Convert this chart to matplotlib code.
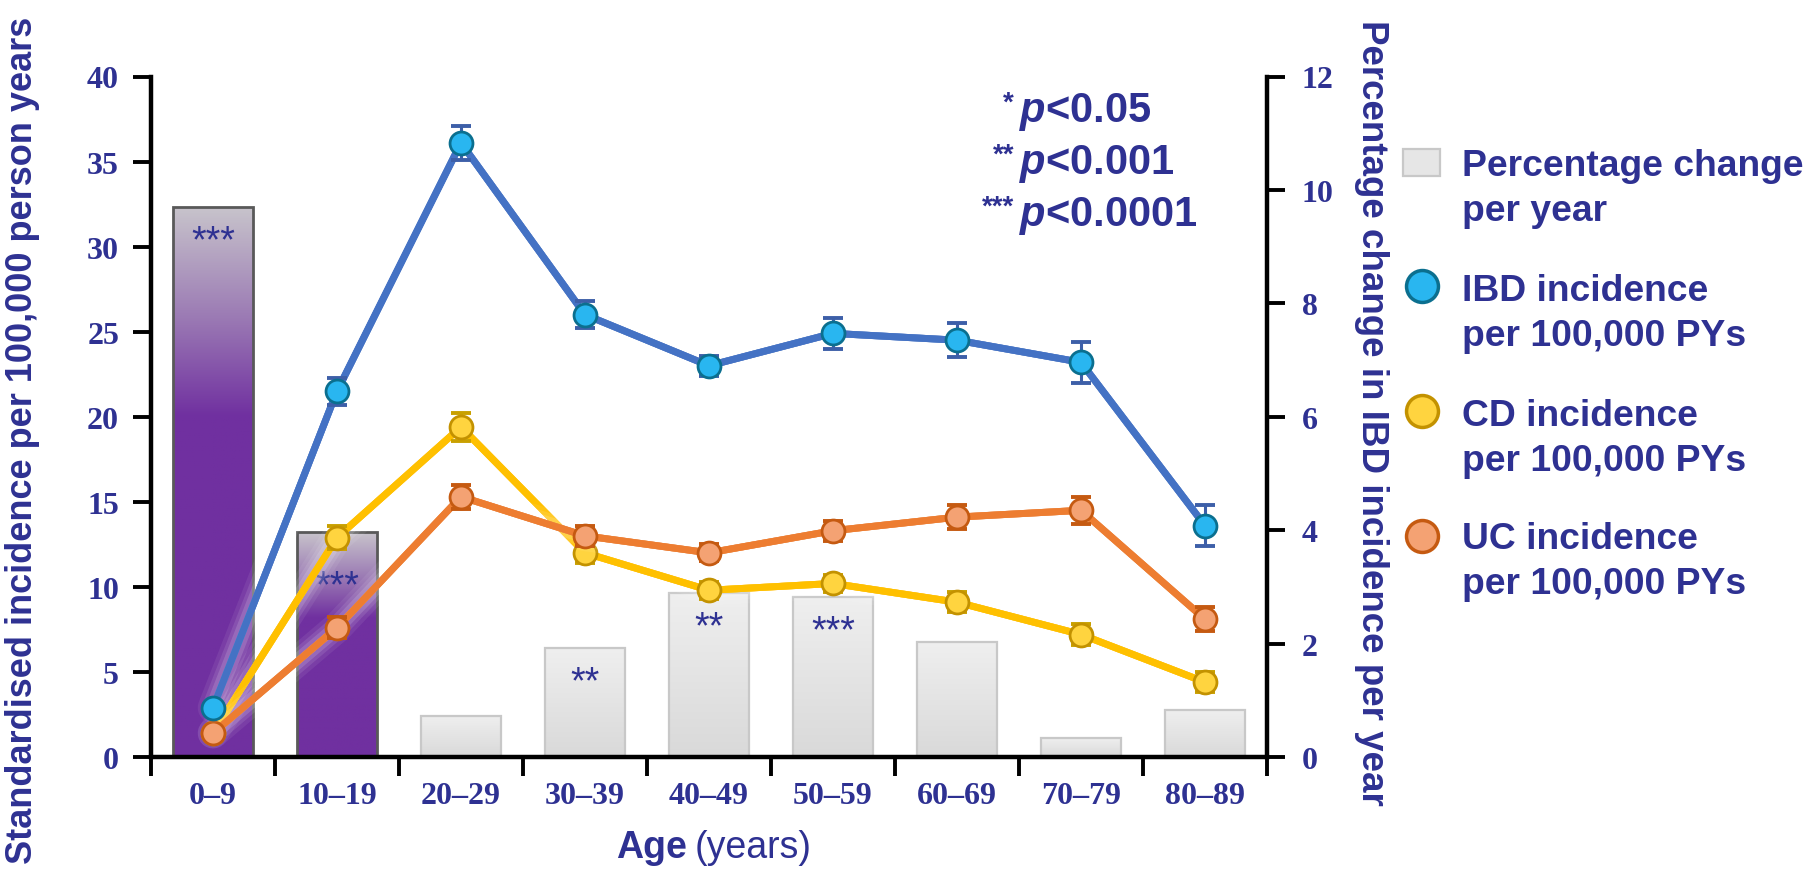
import numpy as np
import matplotlib
matplotlib.use('Agg')
import matplotlib.pyplot as plt
import matplotlib.patheffects as pe
from matplotlib.colors import LinearSegmentedColormap
from matplotlib.patches import Rectangle
from matplotlib.lines import Line2D

# Age bands and per-band values
age_groups = ['0–9', '10–19', '20–29', '30–39', '40–49', '50–59', '60–69', '70–79', '80–89']
pct_change = [9.69, 3.96, 0.73, 1.92, 2.90, 2.82, 2.02, 0.33, 0.82]
significance = ['***', '***', '', '**', '**', '***', '', '', '']
highlighted = [True, True, False, False, False, False, False, False, False]

ibd_rate = [2.9, 21.5, 36.1, 26.0, 23.0, 24.9, 24.5, 23.2, 13.6]
ibd_err = [0.3, 0.8, 1.0, 0.8, 0.6, 0.9, 1.0, 1.2, 1.2]
cd_rate = [1.4, 12.9, 19.4, 12.0, 9.8, 10.2, 9.1, 7.2, 4.4]
cd_err = [0.2, 0.7, 0.8, 0.6, 0.5, 0.5, 0.6, 0.6, 0.6]
uc_rate = [1.4, 7.6, 15.3, 13.0, 12.0, 13.3, 14.1, 14.5, 8.1]
uc_err = [0.2, 0.6, 0.7, 0.6, 0.5, 0.6, 0.7, 0.8, 0.7]

NAVY = '#2E3192'
SANS = 'Liberation Sans'
SERIF = 'Liberation Serif'

W, H = 1814, 878


def fx(px):
    return px / W


def fy(py):
    return 1 - py / H


purple_cmap = LinearSegmentedColormap.from_list(
    'purple_fade', [(0.0, '#7030A0'), (0.62, '#7030A0'), (0.80, '#9B7AB4'), (1.0, '#C7C3CB')])
grey_cmap = LinearSegmentedColormap.from_list(
    'grey_fade', [(0.0, '#D9D9D9'), (1.0, '#EFEFEF')])


def gradient_bar(axis, x, h, width, cmap, edge, lw):
    rect = axis.bar(x, h, width, facecolor='none', edgecolor=edge, linewidth=lw, zorder=3)[0]
    grad = np.linspace(0, 1, 256).reshape(-1, 1)
    im = axis.imshow(grad, cmap=cmap, origin='lower', aspect='auto',
                     extent=(x - width / 2, x + width / 2, 0, h), zorder=2)
    im.set_clip_path(rect)
    return rect


fig = plt.figure(figsize=(W / 100, H / 100), dpi=100)
ax = fig.add_axes([fx(151), fy(758), fx(1267 - 151), (758 - 77.5) / H])
ax2 = ax.twinx()

x = np.arange(len(age_groups))

# Percentage-change bars on the right axis
bar_w = 0.65
for i, (h, hl) in enumerate(zip(pct_change, highlighted)):
    if hl:
        gradient_bar(ax2, x[i], h, bar_w, purple_cmap, '#595959', 2.0)
    else:
        gradient_bar(ax2, x[i], h, bar_w, grey_cmap, '#C8C8C8', 1.6)

star_drop = {1: 0.8}
for i, (h, s) in enumerate(zip(pct_change, significance)):
    if s:
        ax2.annotate(s, (x[i], h - star_drop.get(i, 0.45)), xytext=(0, -13.5),
                     textcoords='offset points', ha='center', va='baseline',
                     fontsize=27, color=NAVY, family=SANS, zorder=4)

# Incidence lines on the left axis
series = [
    (cd_rate, cd_err, '#FFC000', '#FFD43F', '#C39200', '#C9A000'),
    (uc_rate, uc_err, '#ED7D31', '#F4A273', '#C55A11', '#C55A11'),
    (ibd_rate, ibd_err, '#4472C4', '#29B6F0', '#0B6F8F', '#3D5FA8'),
]
glow = [pe.withStroke(linewidth=22, foreground='white', alpha=0.07),
        pe.withStroke(linewidth=16, foreground='white', alpha=0.10),
        pe.withStroke(linewidth=11, foreground='white', alpha=0.14)]
for z, (vals, errs, lc, fc, ec, errc) in enumerate(series):
    ax.plot(x, vals, '-', color=lc, lw=5, zorder=5 + 3 * z, path_effects=glow,
            solid_capstyle='round')
    ax.errorbar(x, vals, yerr=errs, fmt='none', ecolor=errc, elinewidth=2.2,
                capsize=7, capthick=2.8, zorder=6 + 3 * z)
    ax.plot(x, vals, 'o', ms=16.5, mfc=fc, mec=ec, mew=2, zorder=7 + 3 * z)

ax.set_xlim(-0.5, 8.5)
ax.set_ylim(0, 40)
ax2.set_ylim(0, 12)
ax.set_zorder(ax2.get_zorder() + 1)
ax.patch.set_visible(False)

# Axes styling
for a in (ax, ax2):
    a.spines['top'].set_visible(False)
ax.spines['right'].set_visible(False)
ax2.spines['left'].set_visible(False)
ax2.spines['bottom'].set_visible(False)
for sp in (ax.spines['left'], ax.spines['bottom'], ax2.spines['right']):
    sp.set_linewidth(3.2)
    sp.set_color('black')

ax.set_yticks(np.arange(0, 41, 5))
ax2.set_yticks(np.arange(0, 13, 2))
ax.tick_params(axis='y', direction='out', length=13, width=2.8, pad=10,
               labelsize=23, labelcolor=NAVY)
ax2.tick_params(axis='y', direction='out', length=13, width=2.8, pad=12,
                labelsize=23, labelcolor=NAVY)
ax.set_xticks(x)
ax.set_xticklabels(age_groups)
ax.set_xticks(np.arange(-0.5, 9, 1), minor=True)
ax.tick_params(axis='x', which='major', length=0, pad=17, labelsize=23, labelcolor=NAVY)
ax.tick_params(axis='x', which='minor', direction='out', length=14, width=2.8)
for lab in ax.get_xticklabels() + ax.get_yticklabels() + ax2.get_yticklabels():
    lab.set_fontfamily(SERIF)
    lab.set_fontweight('bold')

# Axis titles
fig.text(fx(23), fy(440), 'Standardised incidence per 100,000 person years',
         rotation=90, ha='center', va='center', fontsize=26, fontweight='bold',
         family=SANS, color=NAVY)
fig.text(fx(1371), fy(413), 'Percentage change in IBD incidence per year',
         rotation=270, ha='center', va='center', fontsize=26.5, fontweight='bold',
         family=SANS, color=NAVY)
fig.text(fx(687), fy(858), 'Age', ha='right', va='baseline', fontsize=27,
         fontweight='bold', family=SANS, color=NAVY)
fig.text(fx(695), fy(858), '(years)', ha='left', va='baseline', fontsize=27,
         family=SANS, color=NAVY)

# Significance key
plt.rcParams['mathtext.fontset'] = 'custom'
plt.rcParams['mathtext.it'] = 'Liberation Sans:italic:bold'
plt.rcParams['mathtext.rm'] = 'Liberation Sans:bold'
for stars, thr, base in [('*', '0.05', 122), ('**', '0.001', 174), ('***', '0.0001', 226)]:
    fig.text(fx(1014), fy(base - 11), stars, ha='right', va='baseline', fontsize=20,
             fontweight='bold', family=SANS, color=NAVY)
    fig.text(fx(1019), fy(base), r'$p$<' + thr, ha='left', va='baseline', fontsize=30,
             fontweight='bold', family=SANS, color=NAVY)

# Legend
sq = Rectangle((fx(1403), fy(177)), fx(37), 27 / H, transform=fig.transFigure,
               facecolor='#E6E6E6', edgecolor='#C8C8C8', linewidth=1.6)
fig.add_artist(sq)
legend_marks = [(287, '#29B6F0', '#0B6F8F'), (412, '#FFD43F', '#C39200'), (537, '#F4A273', '#C55A11')]
for py, fc, ec in legend_marks:
    fig.add_artist(Line2D([fx(1422)], [fy(py)], transform=fig.transFigure, marker='o',
                          ms=23, mfc=fc, mec=ec, mew=2.5, linestyle='none'))
legend_lines = [('Percentage change', 176), ('per year', 221),
                ('IBD incidence', 301), ('per 100,000 PYs', 346),
                ('CD incidence', 426), ('per 100,000 PYs', 471),
                ('UC incidence', 549), ('per 100,000 PYs', 594)]
for txt, base in legend_lines:
    fig.text(fx(1462), fy(base), txt, ha='left', va='baseline', fontsize=26.8,
             fontweight='bold', family=SANS, color=NAVY)

fig.savefig('out.png', dpi=100, facecolor='white')
